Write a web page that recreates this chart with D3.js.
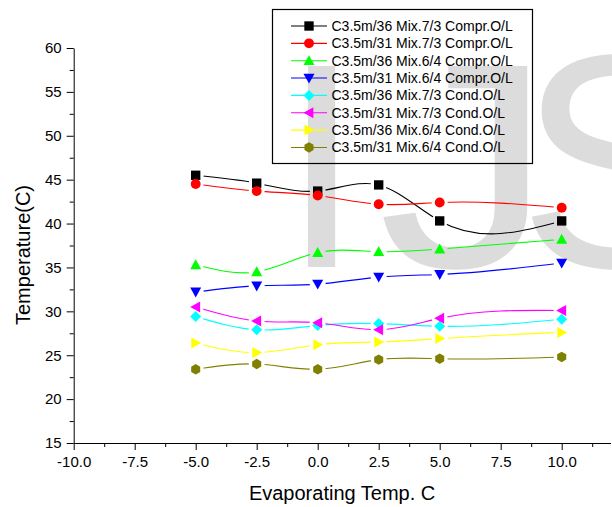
<!DOCTYPE html>
<html>
<head>
<meta charset="utf-8">
<script src="https://cdn.jsdelivr.net/npm/d3@7"></script>
<style>
    body { margin: 0; background: #fff; }
    svg { display: block; font-family: "Liberation Sans", Arial, sans-serif; }
</style>
</head>
<body>
<div class="chart"></div>
<script>
// evaporating temperatures (x)
let evapTemps = [-5, -2.5, 0, 2.5, 5, 10];

let seriesNames = [
    'C3.5m/36 Mix.7/3 Compr.O/L',
    'C3.5m/31 Mix.7/3 Compr.O/L',
    'C3.5m/36 Mix.6/4 Compr.O/L',
    'C3.5m/31 Mix.6/4 Compr.O/L',
    'C3.5m/36 Mix.7/3 Cond.O/L',
    'C3.5m/31 Mix.7/3 Cond.O/L',
    'C3.5m/36 Mix.6/4 Cond.O/L',
    'C3.5m/31 Mix.6/4 Cond.O/L'
];

let compr36mix73 = [45.5, 44.6, 43.7, 44.4, 40.3, 40.3];
let compr31mix73 = [44.5, 43.7, 43.2, 42.2, 42.4, 41.8];
let compr36mix64 = [35.3, 34.5, 36.7, 36.8, 37.1, 38.2];
let compr31mix64 = [32.2, 32.9, 33.1, 33.9, 34.2, 35.5];
let cond36mix73 = [29.4, 27.9, 28.4, 28.6, 28.3, 29.1];
let cond31mix73 = [30.5, 28.9, 28.7, 27.9, 29.2, 30.1];
let cond36mix64 = [26.4, 25.3, 26.2, 26.5, 26.9, 27.6];
let cond31mix64 = [23.4, 24.0, 23.4, 24.5, 24.6, 24.8];

let xTicks = [-10, -7.5, -5, -2.5, 0, 2.5, 5, 7.5, 10];
let yTicks = [15, 20, 25, 30, 35, 40, 45, 50, 55, 60];

let allSeries = [compr36mix73, compr31mix73, compr36mix64, compr31mix64,
    cond36mix73, cond31mix73, cond36mix64, cond31mix64];
let colors = ['#000000', '#ff0000', '#00ff00', '#0000ff',
    '#00ffff', '#ff00ff', '#ffff00', '#808000'];
let shapes = ['square', 'circle', 'up', 'down', 'diamond', 'left', 'right', 'hexagon'];

let width = 612;
let height = 507;

let svg = d3.select('.chart')
    .append('svg')
    .attr('width', width)
    .attr('height', height);

// background watermark letters
let mark = svg.append('g')
    .attr('fill', '#dcdcdc')
    .style('font-size', '292px');
mark.append('text').attr('x', 281).attr('y', 267).text('I');
mark.append('text').attr('transform', 'translate(378,267) scale(1.2,1)').text('J');
mark.append('text').attr('x', 518).attr('y', 267).style('font-size', '305px').text('S');

let x = d3.scaleLinear().domain([-10, 12]).range([73.7, 610.5]);
let y = d3.scaleLinear().domain([15, 60]).range([443, 48]);

// minor ticks
let xMinor = d3.range(-10, 12.01, 1.25).filter(v => xTicks.indexOf(v) < 0);
let yMinor = d3.range(15, 60.01, 2.5).filter(v => yTicks.indexOf(v) < 0);

svg.append('g')
    .attr('transform', 'translate(0,' + y(15) + ')')
    .call(d3.axisBottom(x).tickValues(xTicks).tickFormat(d => d.toFixed(1))
        .tickSize(7).tickSizeOuter(0).tickPadding(6));
svg.append('g')
    .attr('transform', 'translate(0,' + y(15) + ')')
    .call(d3.axisBottom(x).tickValues(xMinor).tickFormat('').tickSize(4).tickSizeOuter(0))
    .select('.domain').remove();

svg.append('g')
    .attr('transform', 'translate(' + x(-10) + ',0)')
    .call(d3.axisLeft(y).tickValues(yTicks).tickFormat(d => String(d))
        .tickSize(7).tickSizeOuter(0).tickPadding(5));
svg.append('g')
    .attr('transform', 'translate(' + x(-10) + ',0)')
    .call(d3.axisLeft(y).tickValues(yMinor).tickFormat('').tickSize(4).tickSizeOuter(0))
    .select('.domain').remove();

svg.selectAll('.tick text')
    .style('font-size', '15px')
    .attr('fill', '#000')
    .style('font-family', '"Liberation Sans", Arial, sans-serif');
svg.selectAll('.domain, .tick line').attr('stroke', '#000');

// axis titles
svg.append('text')
    .attr('x', (x(-10) + x(12)) / 2)
    .attr('y', 500)
    .attr('text-anchor', 'middle')
    .style('font-size', '20px')
    .text('Evaporating Temp. C');

svg.append('text')
    .attr('transform', 'translate(30,255) rotate(-90)')
    .attr('text-anchor', 'middle')
    .style('font-size', '20px')
    .text('Temperature(C)');

// cubic spline through the points, taken along x (like Origin's spline line)
function SplineX(context) {
    this._context = context;
}
SplineX.prototype = {
    areaStart: function() { this._line = 0; },
    areaEnd: function() { this._line = NaN; },
    lineStart: function() { this._xs = []; this._ys = []; },
    point: function(px, py) { this._xs.push(+px); this._ys.push(+py); },
    lineEnd: function() {
        let xs = this._xs, ys = this._ys, n = xs.length;
        if (!n) return;
        this._context.moveTo(xs[0], ys[0]);
        if (n < 3) {
            for (let i = 1; i < n; i++) this._context.lineTo(xs[i], ys[i]);
            return;
        }
        let h = [], M = new Array(n).fill(0);
        for (let i = 0; i < n - 1; i++) h.push(xs[i + 1] - xs[i]);
        // tridiagonal solve for second derivatives, natural ends
        let a = [], b = [], c = [], r = [];
        for (let i = 1; i < n - 1; i++) {
            a.push(h[i - 1]);
            b.push(2 * (h[i - 1] + h[i]));
            c.push(h[i]);
            r.push(6 * ((ys[i + 1] - ys[i]) / h[i] - (ys[i] - ys[i - 1]) / h[i - 1]));
        }
        let m = b.length;
        for (let i = 1; i < m; i++) {
            let w = a[i] / b[i - 1];
            b[i] -= w * c[i - 1];
            r[i] -= w * r[i - 1];
        }
        let sol = new Array(m);
        sol[m - 1] = r[m - 1] / b[m - 1];
        for (let i = m - 2; i >= 0; i--) sol[i] = (r[i] - c[i] * sol[i + 1]) / b[i];
        for (let i = 0; i < m; i++) M[i + 1] = sol[i];

        for (let i = 0; i < n - 1; i++) {
            let d = (ys[i + 1] - ys[i]) / h[i];
            let s0 = d - h[i] * (2 * M[i] + M[i + 1]) / 6;
            let s1 = d + h[i] * (M[i] + 2 * M[i + 1]) / 6;
            this._context.bezierCurveTo(
                xs[i] + h[i] / 3, ys[i] + s0 * h[i] / 3,
                xs[i + 1] - h[i] / 3, ys[i + 1] - s1 * h[i] / 3,
                xs[i + 1], ys[i + 1]);
        }
    }
};
function curveSplineX(context) {
    return new SplineX(context);
}

// marker paths
function symbolPath(shape, r) {
    let p = d3.path();
    if (shape === 'square') {
        p.rect(-r * 0.85, -r * 0.85, r * 1.7, r * 1.7);
    } else if (shape === 'circle') {
        p.arc(0, 0, r * 0.9, 0, 2 * Math.PI);
    } else if (shape === 'diamond') {
        p.moveTo(0, -r); p.lineTo(r, 0); p.lineTo(0, r); p.lineTo(-r, 0); p.closePath();
    } else if (shape === 'hexagon') {
        for (let i = 0; i < 6; i++) {
            let ang = Math.PI / 6 + i * Math.PI / 3;
            let px = r * 0.95 * Math.cos(ang), py = r * 0.95 * Math.sin(ang);
            if (i === 0) p.moveTo(px, py); else p.lineTo(px, py);
        }
        p.closePath();
    } else {
        let rot = {up: 0, down: 180, left: -90, right: 90}[shape] * Math.PI / 180;
        let pts = [[0, -r], [r, r * 0.8], [-r, r * 0.8]];
        pts.forEach(function(pt, i) {
            let px = pt[0] * Math.cos(rot) - pt[1] * Math.sin(rot);
            let py = pt[0] * Math.sin(rot) + pt[1] * Math.cos(rot);
            if (i === 0) p.moveTo(px, py); else p.lineTo(px, py);
        });
        p.closePath();
    }
    return p.toString();
}

let line = d3.line()
    .x((d, i) => x(evapTemps[i]))
    .y(d => y(d))
    .curve(curveSplineX);

let defs = svg.append('defs');

allSeries.forEach(function(values, s) {
    // gap in the line around each symbol
    let mask = defs.append('mask').attr('id', 'gap' + s)
        .attr('maskUnits', 'userSpaceOnUse')
        .attr('x', 0).attr('y', 0).attr('width', width).attr('height', height);
    mask.append('rect').attr('width', width).attr('height', height).attr('fill', '#fff');
    values.forEach(function(v, i) {
        mask.append('circle')
            .attr('cx', x(evapTemps[i]))
            .attr('cy', y(v))
            .attr('r', 8)
            .attr('fill', '#000');
    });

    svg.append('path')
        .datum(values)
        .attr('d', line)
        .attr('fill', 'none')
        .attr('stroke', colors[s])
        .attr('stroke-width', 1.1)
        .attr('mask', 'url(#gap' + s + ')');
});

allSeries.forEach(function(values, s) {
    svg.append('g').selectAll('path')
        .data(values)
        .join('path')
        .attr('transform', (d, i) => 'translate(' + x(evapTemps[i]) + ',' + y(d) + ')')
        .attr('d', symbolPath(shapes[s], 5.5))
        .attr('fill', colors[s]);
});

// legend
let legend = svg.append('g');
legend.append('rect')
    .attr('x', 272.5).attr('y', 9.5)
    .attr('width', 260).attr('height', 154)
    .attr('fill', 'none')
    .attr('stroke', '#000')
    .attr('stroke-width', 1.2);

seriesNames.forEach(function(name, i) {
    let ly = 26 + i * 17.35;
    let row = legend.append('g').attr('transform', 'translate(0,' + ly + ')');
    row.append('line')
        .attr('x1', 291).attr('x2', 327)
        .attr('stroke', colors[i]).attr('stroke-width', 1.1);
    row.append('path')
        .attr('transform', 'translate(309,0)')
        .attr('d', symbolPath(shapes[i], 5.5))
        .attr('fill', colors[i]);
    row.append('text')
        .attr('x', 331.5)
        .attr('dy', '0.36em')
        .style('font-size', '14px')
        .text(name);
});
</script>
</body>
</html>
